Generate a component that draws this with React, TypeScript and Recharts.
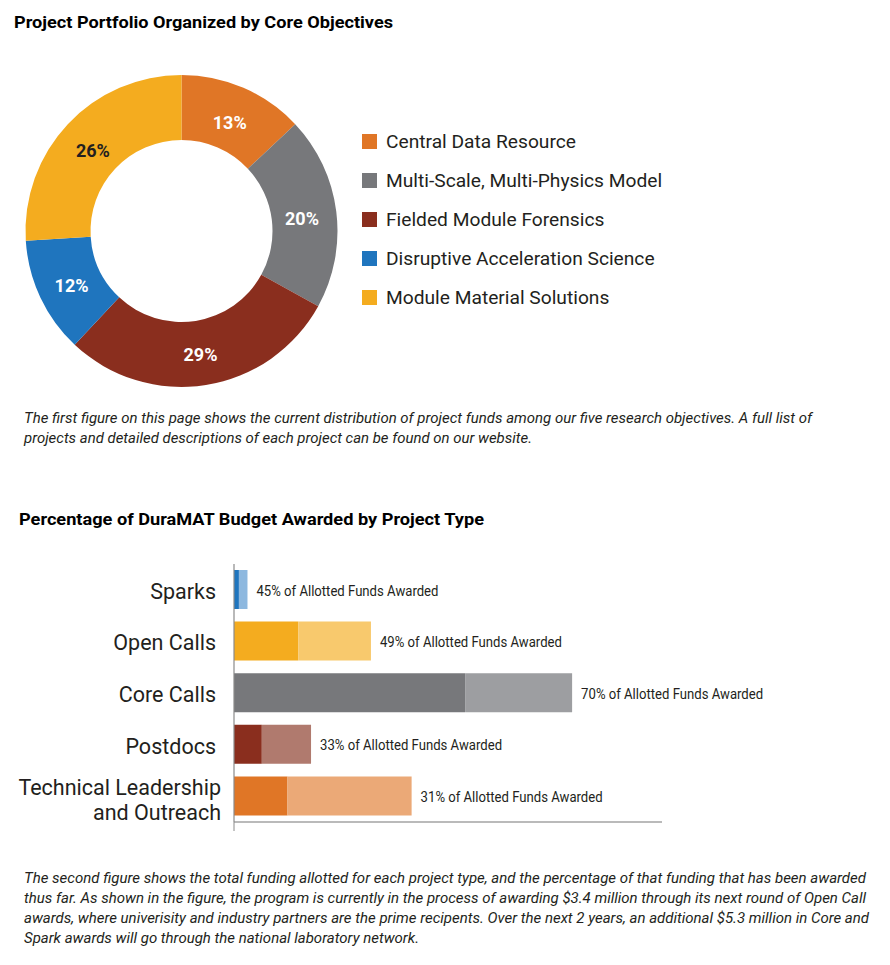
import React from 'react';
import { PieChart, Pie, Cell, Legend, BarChart, Bar, XAxis, YAxis, LabelList } from 'recharts';

// ---------- Chart 1: project portfolio by core objective ----------
const objectives = [
  'Central Data Resource',
  'Multi-Scale, Multi-Physics Model',
  'Fielded Module Forensics',
  'Disruptive Acceleration Science',
  'Module Material Solutions',
];
const objectiveShares = [13, 20, 29, 12, 26];
const objectiveColors = ['#E07626', '#77787B', '#8A2E1E', '#1F75BE', '#F4AC1F'];
const objectiveLabelColors = ['#FFFFFF', '#FFFFFF', '#FFFFFF', '#FFFFFF', '#231F20'];

// ---------- Chart 2: budget awarded by project type ($ millions) ----------
const projectTypes = ['Sparks', 'Open Calls', 'Core Calls', 'Postdocs', 'Technical Leadership\nand Outreach'];
const awardedFunds = [0.23, 3.0, 10.8, 1.3, 2.5];
const remainingFunds = [0.4, 3.4, 5.0, 2.3, 5.8];
const awardedPercent = [45, 49, 70, 33, 31];
const awardedColors = ['#1F75BE', '#F4AC1F', '#77787B', '#8A2E1E', '#E07626'];
const remainingColors = ['#8DB8DF', '#F8C96D', '#9D9EA1', '#B07A6E', '#EBA977'];

// ---------- Text ----------
const title1 = 'Project Portfolio Organized by Core Objectives';
const title2 = 'Percentage of DuraMAT Budget Awarded by Project Type';
const paragraph1 = [
  'The first figure on this page shows the current distribution of project funds among our five research objectives. A full list of',
  'projects and detailed descriptions of each project can be found on our website.',
];
const paragraph2 = [
  'The second figure shows the total funding allotted for each project type, and the percentage of that funding that has been awarded',
  'thus far. As shown in the figure, the program is currently in the process of awarding $3.4 million through its next round of Open Call',
  'awards, where univerisity and industry partners are the prime recipents. Over the next 2 years, an additional $5.3 million in Core and',
  'Spark awards will go through the national laboratory network.',
];

const pieData = objectives.map((name, i) => ({ name, value: objectiveShares[i] }));
const barData = projectTypes.map((name, i) => ({
  name,
  awarded: awardedFunds[i],
  remaining: remainingFunds[i],
  pct: awardedPercent[i],
}));

const FONT = 'Roboto, "Noto Sans", sans-serif';
const RAD = Math.PI / 180;

const renderPieLabel = (props: any) => {
  const { cx, cy, midAngle, innerRadius, outerRadius, index, value } = props;
  const r = (innerRadius + outerRadius) / 2 - 2;
  const x = cx + r * Math.cos(-midAngle * RAD);
  const y = cy + r * Math.sin(-midAngle * RAD) + 3;
  return (
    <text
      x={x}
      y={y}
      textAnchor="middle"
      dominantBaseline="central"
      fontFamily={FONT}
      fontWeight={700}
      fontSize={18}
      fill={objectiveLabelColors[index]}
    >
      {value}%
    </text>
  );
};

const renderLegend = () => (
  <div style={{ fontFamily: FONT }}>
    {objectives.map((name, i) => (
      <div key={name} style={{ height: 39, display: 'flex', alignItems: 'center' }}>
        <div style={{ width: 15, height: 15, background: objectiveColors[i], marginRight: 9 }} />
        <span style={{ fontSize: 19.2, color: '#231F20', whiteSpace: 'nowrap' }}>{name}</span>
      </div>
    ))}
  </div>
);

const renderYTick = (props: any) => {
  const { x, y, payload } = props;
  const lines = String(payload.value).split('\n');
  const first = lines.length > 1 ? -8 : 2;
  const tx = lines.length > 1 ? x - 5 : x - 10;
  return (
    <text x={tx} y={y} textAnchor="end" fontFamily={FONT} fontSize={21.5} fill="#231F20">
      {lines.map((ln, i) => (
        <tspan key={i} x={tx} dy={i === 0 ? first + 7 : 24.5}>
          {ln}
        </tspan>
      ))}
    </text>
  );
};

const renderBarLabel = (props: any) => {
  const { x, y, width, height, value } = props;
  return (
    <text
      x={x + width + 9}
      y={y + height / 2 + 1}
      dominantBaseline="central"
      fontFamily={FONT}
      fontSize={14}
      fill="#231F20"
      textLength={182}
      lengthAdjust="spacingAndGlyphs"
    >
      {value}% of Allotted Funds Awarded
    </text>
  );
};

const emptyTick = () => <g />;

export default function App() {
  return (
    <div
      style={{
        position: 'absolute',
        left: 0,
        top: 0,
        width: 890,
        height: 965,
        background: '#FFFFFF',
        fontFamily: FONT,
        overflow: 'hidden',
      }}
    >
      <div style={{ position: 'absolute', left: 0, top: 0 }}>
        <PieChart width={890} height={400}>
          <Pie
            data={pieData}
            dataKey="value"
            nameKey="name"
            cx={176.5}
            cy={226}
            innerRadius={91}
            outerRadius={156}
            startAngle={90}
            endAngle={-270}
            stroke="none"
            label={renderPieLabel}
            labelLine={false}
            isAnimationActive={false}
          >
            {pieData.map((d, i) => (
              <Cell key={d.name} fill={objectiveColors[i]} />
            ))}
          </Pie>
          <Legend
            content={renderLegend}
            wrapperStyle={{ position: 'absolute', left: 362, top: 121.5, width: 400, height: 195 }}
          />
        </PieChart>
      </div>

      <div style={{ position: 'absolute', left: 0, top: 540 }}>
        <BarChart
          width={890}
          height={300}
          data={barData}
          layout="vertical"
          margin={{ top: 24, right: 228, bottom: 8, left: 0 }}
          barSize={39}
        >
          <XAxis
            type="number"
            domain={[0, 20]}
            ticks={[0]}
            tick={emptyTick}
            tickSize={9}
            height={10}
            axisLine={{ stroke: '#A3A3A3', strokeWidth: 1.5 }}
            tickLine={{ stroke: '#8A8A8A', strokeWidth: 1 }}
          />
          <YAxis
            type="category"
            dataKey="name"
            width={234}
            tickLine={false}
            axisLine={{ stroke: '#8A8A8A', strokeWidth: 1.2 }}
            tick={renderYTick}
            interval={0}
          />
          <Bar dataKey="awarded" stackId="funds" isAnimationActive={false}>
            {barData.map((d, i) => (
              <Cell key={d.name} fill={awardedColors[i]} />
            ))}
          </Bar>
          <Bar dataKey="remaining" stackId="funds" isAnimationActive={false}>
            {barData.map((d, i) => (
              <Cell key={d.name} fill={remainingColors[i]} />
            ))}
            <LabelList dataKey="pct" content={renderBarLabel} />
          </Bar>
        </BarChart>
      </div>

      <svg
        width={890}
        height={965}
        style={{ position: 'absolute', left: 0, top: 0, pointerEvents: 'none' }}
      >
        <text x={14} y={28} fontFamily={FONT} fontWeight={700} fontSize={17} fill="#000" textLength={379} lengthAdjust="spacingAndGlyphs">
          {title1}
        </text>
        <text x={19} y={525} fontFamily={FONT} fontWeight={700} fontSize={17} fill="#000" textLength={465} lengthAdjust="spacingAndGlyphs">
          {title2}
        </text>
        {paragraph1.map((ln, i) => (
          <text
            key={i}
            x={24}
            y={423 + i * 20}
            fontFamily={FONT}
            fontStyle="italic"
            fontSize={14}
            fill="#231F20"
            textLength={[788, 508][i]}
            lengthAdjust="spacingAndGlyphs"
          >
            {ln}
          </text>
        ))}
        {paragraph2.map((ln, i) => (
          <text
            key={i}
            x={24}
            y={883 + i * 20}
            fontFamily={FONT}
            fontStyle="italic"
            fontSize={14}
            fill="#231F20"
            textLength={[842, 842, 845, 395][i]}
            lengthAdjust="spacingAndGlyphs"
          >
            {ln}
          </text>
        ))}
      </svg>
    </div>
  );
}
